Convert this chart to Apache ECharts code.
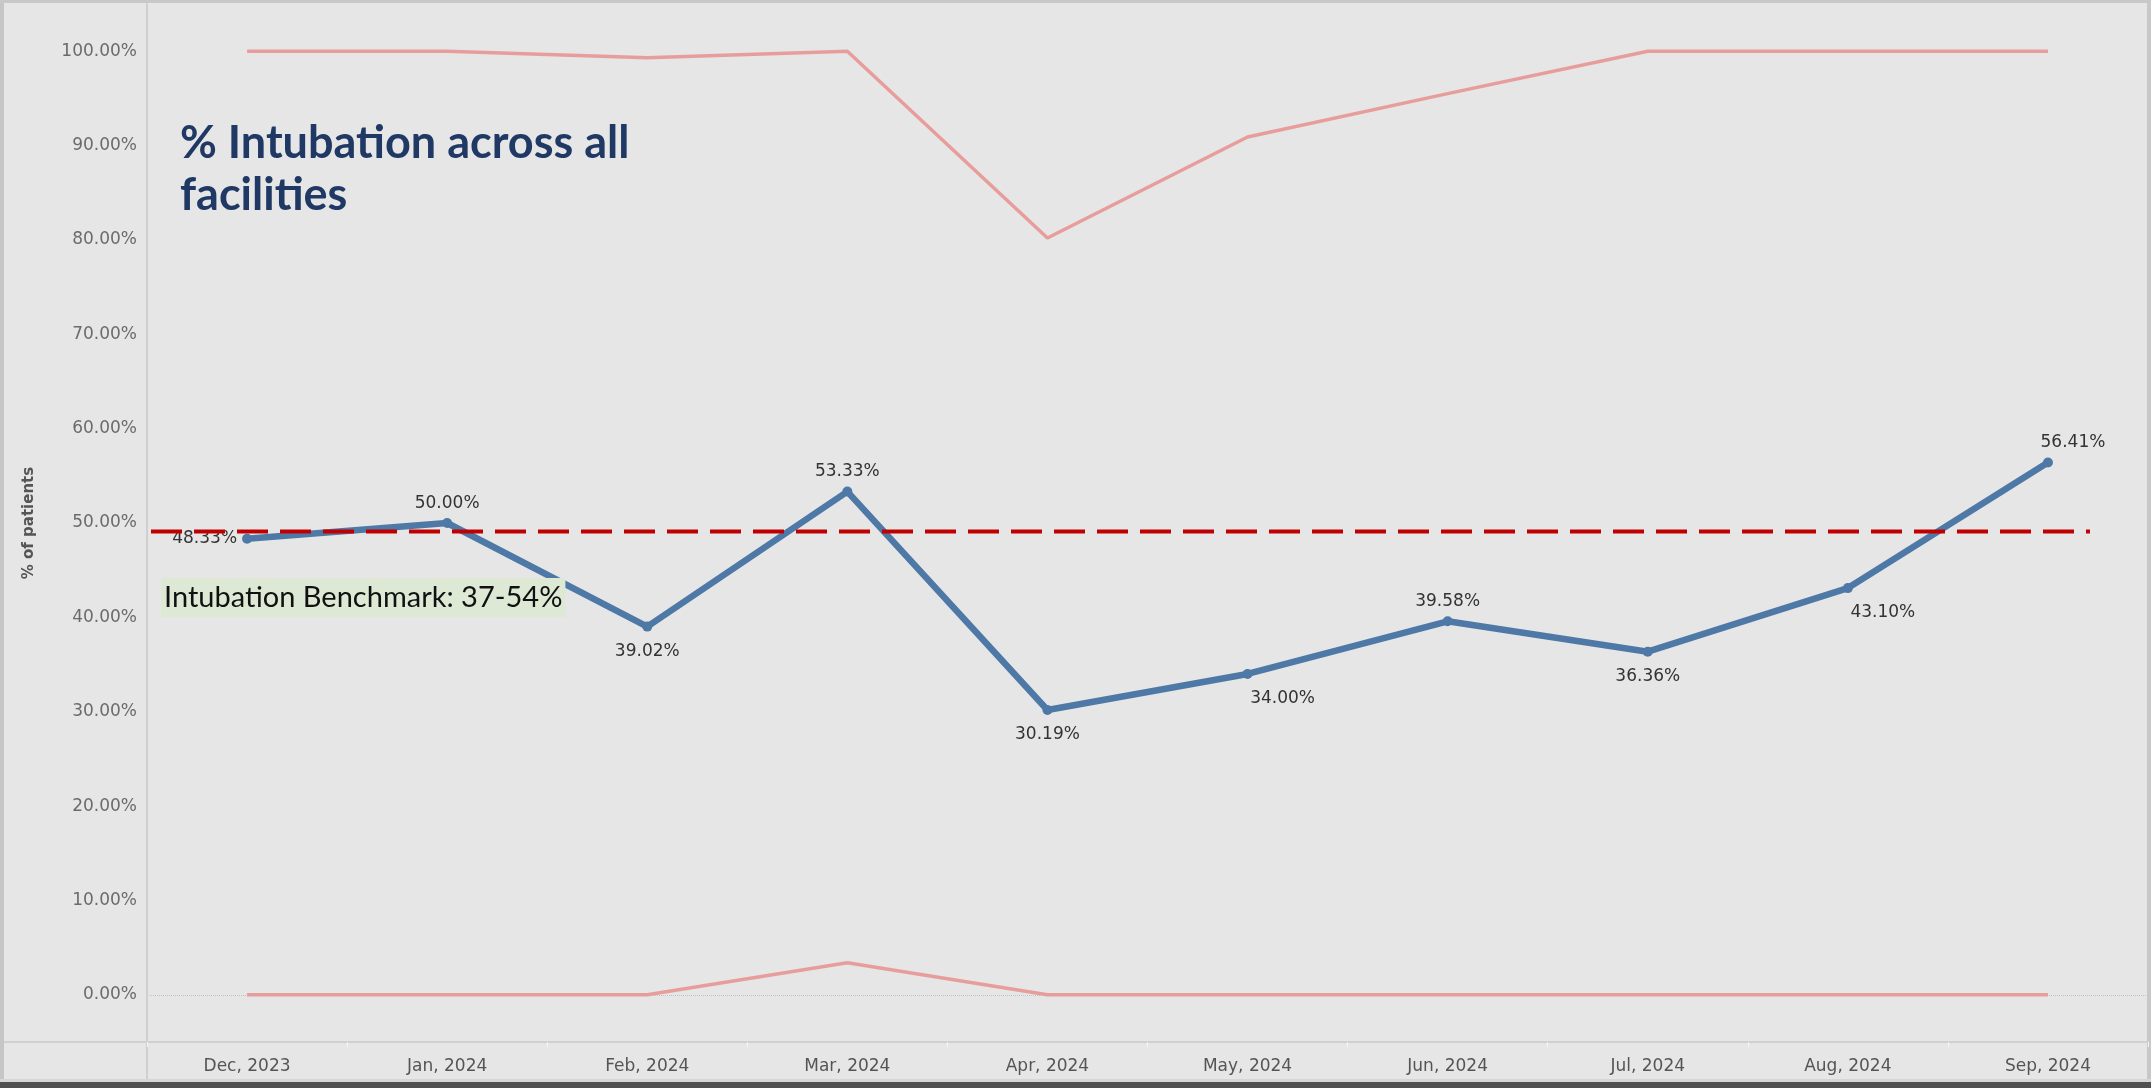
<!DOCTYPE html>
<html>
<head>
<meta charset="utf-8">
<script src="https://cdn.jsdelivr.net/npm/echarts@6/dist/echarts.min.js"></script>
<style>
html,body{margin:0;padding:0;background:#e6e6e6;}
#chart{width:2151px;height:1088px;}
</style>
</head>
<body>
<div id="chart"></div>
<script>
// ---- data ----
const categories = ['Dec, 2023','Jan, 2024','Feb, 2024','Mar, 2024','Apr, 2024','May, 2024','Jun, 2024','Jul, 2024','Aug, 2024','Sep, 2024'];
const intubationPct = [48.33, 50.00, 39.02, 53.33, 30.19, 34.00, 39.58, 36.36, 43.10, 56.41];
const upperLimit = [100, 100, 99.3, 100, 80.2, 90.9, 95.5, 100, 100, 100];
const lowerLimit = [0, 0, 0, 3.4, 0, 0, 0, 0, 0, 0];
const benchmarkValue = 49.1;
const benchmarkSpan = [-0.48, 9.21];   // in category-index units
const yTickValues = [0, 10, 20, 30, 40, 50, 60, 70, 80, 90, 100];
const titleText = '% Intubation across all\nfacilities';
const benchmarkText = 'Intubation Benchmark: 37-54%';
const yAxisTitle = '% of patients';

// ---- label styling per point (not data) ----
const labelPlace = ['left','top','bottom','top','bottom','bottom','top','bottom','bottom','top'];
const labelShift = [0, 0, 0, 0, 0, 35, 0, 0, 35, 25];

const chart = echarts.init(document.getElementById('chart'), null, {renderer:'canvas'});

const blueData = intubationPct.map((v, i) => ({
  value: v,
  label: {
    position: labelPlace[i],
    distance: labelPlace[i] === 'bottom' ? 11 : (labelPlace[i] === 'top' ? 6 : 5),
    offset: [labelShift[i], 0]
  }
}));

const option = {
  animation: false,
  backgroundColor: '#e6e6e6',
  title: [
    {
      text: titleText,
      left: 180, top: 117, padding: 0,
      textStyle: { fontFamily: 'Lato', fontWeight: 'bold', fontSize: 45, lineHeight: 52, color: '#1f3864' }
    },
    {
      text: benchmarkText,
      left: 161, top: 578, padding: [4, 3, 4, 3],
      backgroundColor: '#dde9d5',
      textStyle: { fontFamily: 'Lato', fontWeight: 'normal', fontSize: 29, lineHeight: 31, color: '#111' }
    }
  ],
  grid: { left: 147, right: 3, top: 4, bottom: 46, containLabel: false },
  xAxis: [
    {
      type: 'category', data: categories, boundaryGap: true,
      axisLine: { show: true, onZero: false, lineStyle: { color: '#d0d0d0', width: 2 } },
      axisTick: { show: true, interval: 0, length: 5, lineStyle: { color: '#f4f4f4', width: 1 } },
      axisLabel: { interval: 0, margin: 16, fontFamily: 'DejaVu Sans', fontSize: 17, color: '#555' },
      splitLine: { show: false }
    },
    { type: 'value', min: -0.5, max: 9.5, show: false }
  ],
  yAxis: {
    type: 'value', min: -5, max: 105, interval: 5,
    axisLine: { show: true, onZero: false, lineStyle: { color: '#cfcfcf', width: 2 } },
    axisTick: { show: false },
    splitLine: { show: false },
    axisLabel: {
      margin: 10, fontFamily: 'DejaVu Sans', fontSize: 17, color: '#6b6b6b',
      formatter: v => yTickValues.indexOf(v) >= 0 ? v.toFixed(2) + '%' : ''
    },
    name: yAxisTitle, nameLocation: 'middle', nameGap: 110, nameRotate: 90,
    nameTextStyle: { fontFamily: 'DejaVu Sans', fontWeight: 'bold', fontSize: 15, color: '#555' }
  },
  series: [
    {
      name: 'UCL', type: 'line', data: upperLimit, showSymbol: false, z: 1,
      lineStyle: { color: '#e89d9d', width: 3.5 }, silent: true
    },
    {
      name: 'LCL', type: 'line', data: lowerLimit, showSymbol: false, z: 1,
      lineStyle: { color: '#e89d9d', width: 3.5 }, silent: true,
      markLine: {
        silent: true, symbol: ['none', 'none'], label: { show: false },
        lineStyle: { type: 'dotted', color: '#c2c2c2', width: 1 },
        data: [{ yAxis: 0 }], z: 0
      }
    },
    {
      name: 'Intubation', type: 'line', data: blueData, z: 3,
      symbol: 'circle', symbolSize: 10,
      itemStyle: { color: '#4e79a7' },
      lineStyle: { color: '#4e79a7', width: 6.5 },
      label: {
        show: true, fontFamily: 'DejaVu Sans', fontSize: 17, color: '#333',
        formatter: p => p.value.toFixed(2) + '%'
      }
    },
    {
      name: 'Benchmark', type: 'line', xAxisIndex: 1, z: 4,
      data: benchmarkSpan.map(x => [x, benchmarkValue]),
      showSymbol: false, silent: true,
      lineStyle: { color: '#c00000', width: 4, type: [31, 12] }
    }
  ],
  graphic: [
    { type: 'rect', shape: { x: 0, y: 0, width: 4, height: 1083 }, style: { fill: '#c6c6c6' }, silent: true },
    { type: 'rect', shape: { x: 0, y: 0, width: 2151, height: 3 }, style: { fill: '#c8c8c8' }, silent: true },
    { type: 'rect', shape: { x: 2147, y: 0, width: 4, height: 1083 }, style: { fill: '#c8c8c8' }, silent: true },
    { type: 'rect', shape: { x: 0, y: 1079, width: 2151, height: 3 }, style: { fill: '#d6d6d6' }, silent: true },
    { type: 'rect', shape: { x: 0, y: 1082, width: 2151, height: 6 }, style: { fill: '#505050' }, silent: true },
    { type: 'line', shape: { x1: 4, y1: 1042, x2: 147, y2: 1042 }, style: { stroke: '#d0d0d0', lineWidth: 2 }, silent: true },
    { type: 'line', shape: { x1: 147, y1: 1042, x2: 147, y2: 1079 }, style: { stroke: '#cfcfcf', lineWidth: 2 }, silent: true }
  ]
};
chart.setOption(option);
</script>
</body>
</html>
